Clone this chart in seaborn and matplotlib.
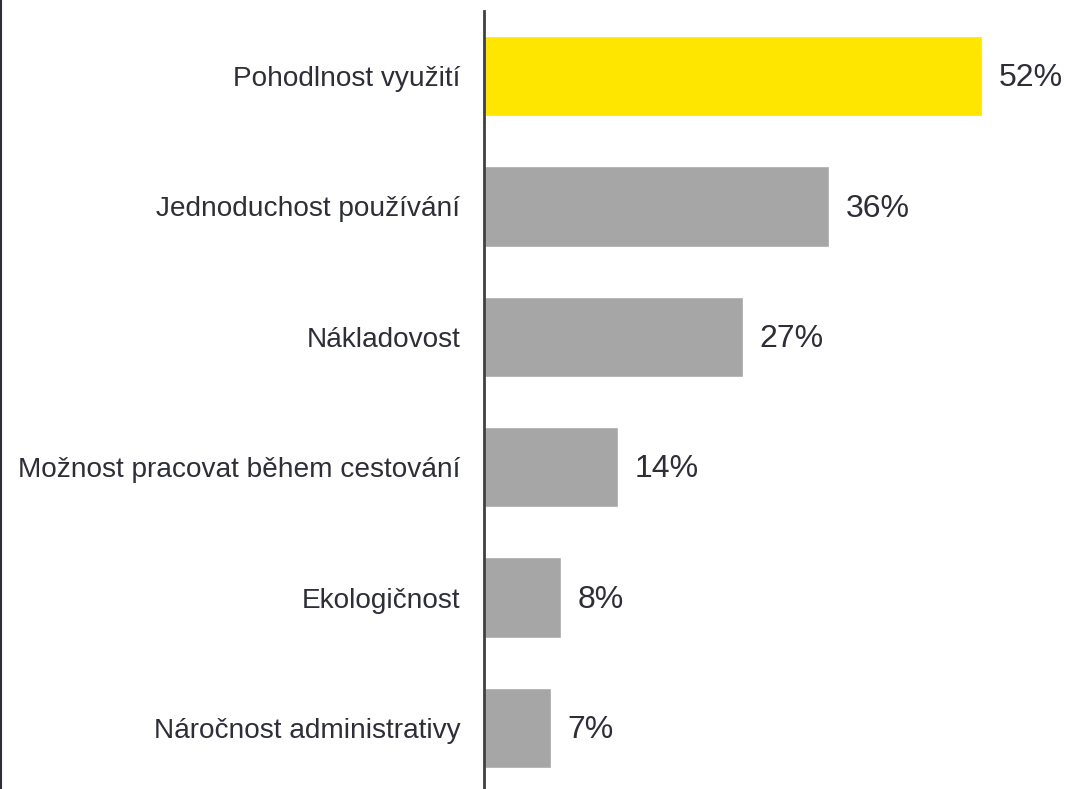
import matplotlib
matplotlib.use("Agg")
import matplotlib.pyplot as plt
from matplotlib.lines import Line2D
import seaborn as sns
import pandas as pd

categories = [
    "Pohodlnost využití",
    "Jednoduchost používání",
    "Nákladovost",
    "Možnost pracovat během cestování",
    "Ekologičnost",
    "Náročnost administrativy",
]
values = [52, 36, 27, 14, 8, 7]
value_labels = ["52%", "36%", "27%", "14%", "8%", "7%"]
bar_colors = ["#FFE600", "#A6A6A6", "#A6A6A6", "#A6A6A6", "#A6A6A6", "#A6A6A6"]

TEXT = "#2E2E38"

sns.set_theme(style="white")
plt.rcParams["font.family"] = ["Liberation Sans", "DejaVu Sans"]

df = pd.DataFrame({"cat": categories, "val": values})

fig = plt.figure(figsize=(10.66, 7.89), dpi=100)
ax = fig.add_axes([484 / 1066, -4 / 789, 1 - 484 / 1066, 782 / 789])

sns.barplot(data=df, x="val", y="cat", hue="cat", palette=bar_colors,
            legend=False, width=0.614, ax=ax, saturation=1)

ax.set_xlim(0, (1066 - 484) / 9.58)
ax.set_ylim(5.5, -0.5)
ax.set_xlabel("")
ax.set_ylabel("")
ax.set_xticks([])
ax.tick_params(axis="y", length=0, pad=17, labelsize=20.2, labelcolor=TEXT)

for side in ["top", "right", "bottom"]:
    ax.spines[side].set_visible(False)
ax.spines["left"].set_color("#404040")
ax.spines["left"].set_linewidth(2)

for i, (v, lab) in enumerate(zip(values, value_labels)):
    ax.annotate(lab, xy=(v, i), xytext=(12, -1.5), textcoords="offset points",
                va="center", ha="left", fontsize=23, color=TEXT)

# thin frame line on the left edge
fig.add_artist(Line2D([0.0008, 0.0008], [0, 1], transform=fig.transFigure,
                      color="#2E2E38", linewidth=1.5))

fig.savefig("out.png", dpi=100)
